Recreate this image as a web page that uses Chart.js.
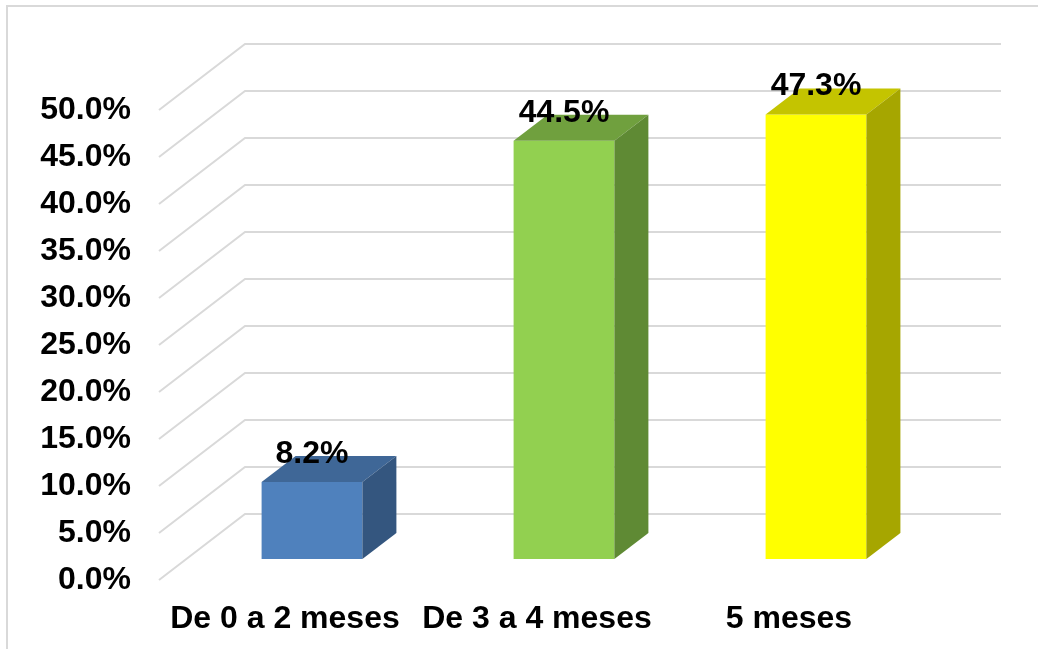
<!DOCTYPE html>
<html>
<head>
<meta charset="utf-8">
<script src="https://cdn.jsdelivr.net/npm/chart.js@4/dist/chart.umd.min.js"></script>
<style>
  html, body { margin: 0; padding: 0; background: #fff; }
  #wrap { width: 1038px; height: 649px; }
</style>
</head>
<body>
<div id="wrap"><canvas id="chart" width="1038" height="649"></canvas></div>
<script>
const categories = ['De 0 a 2 meses', 'De 3 a 4 meses', '5 meses'];
const values = [8.2, 44.5, 47.3];
const frontColors = ['#4f81bd', '#92d050', '#ffff00'];
const topColors = ['#3f6797', '#70a03e', '#c4c400'];
const sideColors = ['#34567f', '#5f8a34', '#a6a600'];

const FONT = 'bold 32px "Liberation Sans", Arial, sans-serif';
const wall = { dx: 86, dy: -66 };    // full depth of the floor / side wall
const barShift = { dx: 27, dy: -21 }; // where the bar front face sits
const barDepth = { dx: 34, dy: -26 };

const threeD = {
    id: 'threeD',
    beforeDraw(chart) {
        const ctx = chart.ctx;
        ctx.save();
        ctx.strokeStyle = '#d9d9d9';
        ctx.lineWidth = 2;
        ctx.strokeRect(7, 6, 1200, 800);
        ctx.restore();
    },
    beforeDatasetsDraw(chart) {
        const ctx = chart.ctx;
        const y = chart.scales.y;
        const area = chart.chartArea;
        ctx.save();
        ctx.strokeStyle = '#d9d9d9';
        ctx.lineWidth = 2;
        y.ticks.forEach(t => {
            const py = y.getPixelForValue(t.value);
            ctx.beginPath();
            ctx.moveTo(area.left, py);
            ctx.lineTo(area.left + wall.dx, py + wall.dy);
            ctx.lineTo(area.right + wall.dx, py + wall.dy);
            ctx.stroke();
        });
        ctx.restore();
        // front faces are drawn by Chart.js, moved back into the scene
        ctx.save();
        ctx.translate(barShift.dx, barShift.dy);
    },
    afterDatasetsDraw(chart) {
        const ctx = chart.ctx;
        ctx.restore();
        const meta = chart.getDatasetMeta(0);
        meta.data.forEach((bar, i) => {
            const l = bar.x - bar.width / 2 + barShift.dx;
            const r = bar.x + bar.width / 2 + barShift.dx;
            const t = bar.y + barShift.dy;
            const b = bar.base + barShift.dy;
            ctx.fillStyle = topColors[i];
            ctx.beginPath();
            ctx.moveTo(l, t);
            ctx.lineTo(l + barDepth.dx, t + barDepth.dy);
            ctx.lineTo(r + barDepth.dx, t + barDepth.dy);
            ctx.lineTo(r, t);
            ctx.closePath();
            ctx.fill();
            ctx.fillStyle = sideColors[i];
            ctx.beginPath();
            ctx.moveTo(r, t);
            ctx.lineTo(r + barDepth.dx, t + barDepth.dy);
            ctx.lineTo(r + barDepth.dx, b + barDepth.dy);
            ctx.lineTo(r, b);
            ctx.closePath();
            ctx.fill();
        });
    },
    afterDraw(chart) {
        const ctx = chart.ctx;
        const meta = chart.getDatasetMeta(0);
        ctx.save();
        ctx.font = FONT;
        ctx.fillStyle = '#000';
        ctx.textAlign = 'center';
        ctx.textBaseline = 'alphabetic';
        meta.data.forEach((bar, i) => {
            ctx.fillText(values[i].toFixed(1) + '%', bar.x + barShift.dx, bar.y + barShift.dy - 19);
        });
        ctx.restore();
    }
};

new Chart(document.getElementById('chart'), {
    type: 'bar',
    data: {
        labels: categories,
        datasets: [{
            data: values,
            backgroundColor: frontColors,
            borderWidth: 0,
            barPercentage: 0.4,
            categoryPercentage: 1.0
        }]
    },
    options: {
        responsive: false,
        animation: false,
        events: [],
        layout: { padding: { left: 0, top: 110, right: 123, bottom: 0 } },
        plugins: {
            legend: { display: false },
            tooltip: { enabled: false }
        },
        scales: {
            x: {
                grid: { display: false },
                border: { display: false },
                ticks: {
                    color: '#000',
                    font: { family: '"Liberation Sans", Arial, sans-serif', size: 32, weight: 'bold' },
                    padding: 12,
                    maxRotation: 0
                },
                afterFit(scale) { scale.height = 69; }
            },
            y: {
                min: 0,
                max: 50,
                grid: { display: false, drawTicks: false },
                border: { display: false },
                ticks: {
                    stepSize: 5,
                    color: '#000',
                    padding: 28,
                    font: { family: '"Liberation Sans", Arial, sans-serif', size: 32, weight: 'bold' },
                    callback: v => v.toFixed(1) + '%'
                },
                afterFit(scale) { scale.width = 159; }
            }
        }
    },
    plugins: [threeD]
});
</script>
</body>
</html>
